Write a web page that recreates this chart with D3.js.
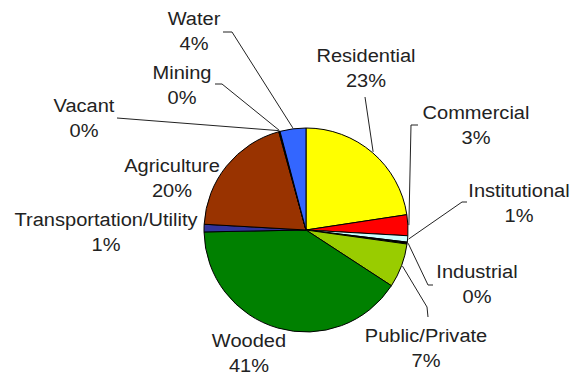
<!DOCTYPE html>
<html>
<head>
<meta charset="utf-8">
<script src="https://cdn.jsdelivr.net/npm/d3@7"></script>
<style>
  html, body { margin: 0; padding: 0; background: #fff; }
  svg { display: block; }
  text { font-family: "Liberation Sans", Arial, sans-serif; font-size: 19px; fill: #222; }
</style>
</head>
<body>
<svg id="chart" width="574" height="377"></svg>
<script>
// Land use shares (percent of total area), clockwise from 12 o'clock
const categories = ["Residential", "Commercial", "Institutional", "Industrial", "Public/Private",
                    "Wooded", "Transportation/Utility", "Agriculture", "Vacant", "Mining", "Water"];
const shares = [22.6, 3.3, 1.0, 0.3, 7.0, 40.5, 1.2, 19.8, 0.1, 0.1, 4.1];
const sliceColors = ["#FFFF00", "#FF0000", "#CCFFFF", "#000000", "#99CC00",
                     "#008000", "#333399", "#993300", "#808080", "#000000", "#3366FF"];

// Label placement: text centre / first baseline, plus optional elbow points for leader lines
const labelLayout = {
  "Residential":            { x: 366, y: 62,  leader: [[365, 97]] },
  "Commercial":             { x: 476, y: 119, leader: [[418, 125], [411, 125]] },
  "Institutional":          { x: 519, y: 197, leader: [[467, 202], [462, 202]] },
  "Industrial":             { x: 477, y: 278, leader: [[433, 285], [428, 285]] },
  "Public/Private":         { x: 426, y: 342, leader: [[428, 317], [427, 307]] },
  "Wooded":                 { x: 249, y: 347, leader: null },
  "Transportation/Utility": { x: 106, y: 226, leader: null },
  "Agriculture":            { x: 172, y: 172, leader: null },
  "Vacant":                 { x: 84,  y: 112, leader: [[117, 118]] },
  "Mining":                 { x: 182, y: 79,  leader: [[215, 84], [222, 84]] },
  "Water":                  { x: 194, y: 25,  leader: [[223, 32], [232, 32]] }
};

const cx = 306, cy = 230, radius = 102;
const lineGap = 25;
const textStretch = 1.055;

const data = categories.map((name, i) => ({ name, value: shares[i], color: sliceColors[i] }));
const total = d3.sum(shares);

const svg = d3.select("#chart");
const g = svg.append("g").attr("transform", `translate(${cx},${cy})`);

const pie = d3.pie().value(d => d.value).sort(null);
const arc = d3.arc().innerRadius(0).outerRadius(radius);
const arcs = pie(data);

g.selectAll("path.slice")
  .data(arcs)
  .join("path")
  .attr("class", "slice")
  .attr("d", arc)
  .attr("fill", d => d.data.color)
  .attr("stroke", "#000")
  .attr("stroke-width", 1)
  .attr("stroke-linejoin", "round");

// Leader lines: from label elbow(s) to the rim at the slice's mid-angle
const rimPoint = d => {
  const a = (d.startAngle + d.endAngle) / 2;
  return [cx + (radius + 1) * Math.sin(a), cy - (radius + 1) * Math.cos(a)];
};

const line = d3.line();
svg.selectAll("path.leader")
  .data(arcs.filter(d => labelLayout[d.data.name].leader))
  .join("path")
  .attr("class", "leader")
  .attr("d", d => line([...labelLayout[d.data.name].leader, rimPoint(d)]))
  .attr("fill", "none")
  .attr("stroke", "#222")
  .attr("stroke-width", 1);

const fmt = v => Math.round(v / total * 100) + "%";

const labels = svg.selectAll("text.label")
  .data(arcs)
  .join("text")
  .attr("class", "label")
  .attr("text-anchor", "middle")
  .attr("transform", d => {
    const p = labelLayout[d.data.name];
    return `translate(${p.x},${p.y}) scale(${textStretch},1)`;
  });

labels.append("tspan")
  .attr("x", 0)
  .text(d => d.data.name);

labels.append("tspan")
  .attr("x", 0)
  .attr("dy", lineGap)
  .text(d => fmt(d.data.value));
</script>
</body>
</html>
